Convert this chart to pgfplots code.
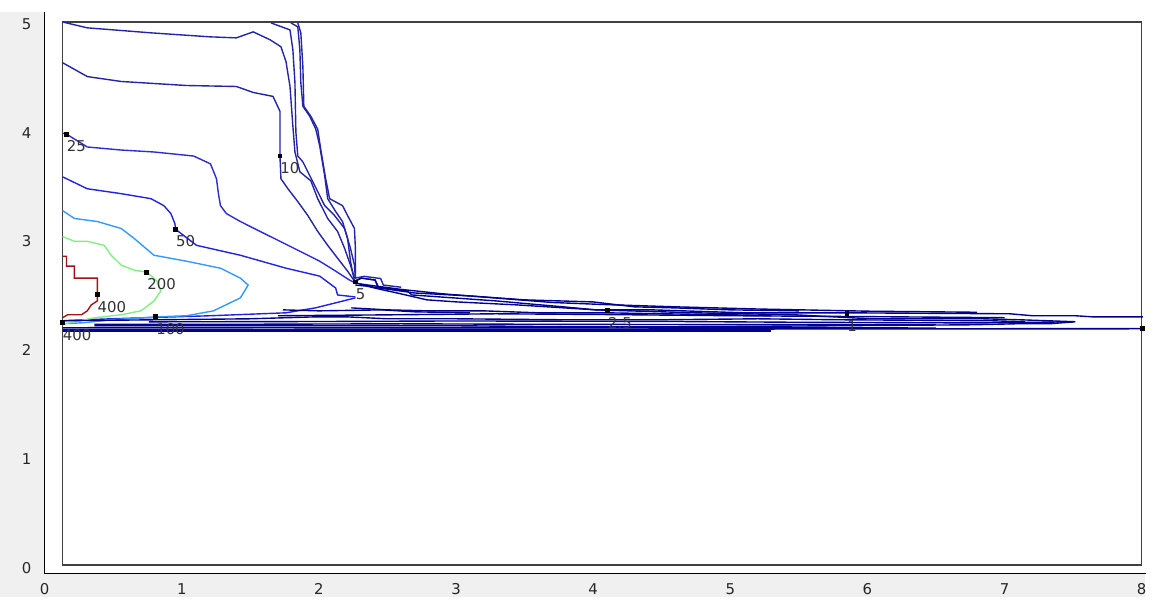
\documentclass[border=0pt]{standalone}
\usepackage{fontspec}
\setmainfont{DejaVu Sans}
\usepackage{pgfplots}
\pgfplotsset{compat=1.18}
\definecolor{bggray}{HTML}{F0F0F0}
\definecolor{cA}{HTML}{2424A8}
\definecolor{c25}{HTML}{2C2CD2}
\definecolor{c50}{HTML}{2222E4}
\definecolor{c100}{HTML}{3399FF}
\definecolor{c200}{HTML}{80F080}
\definecolor{c400}{HTML}{A01414}
\definecolor{cnavy}{HTML}{00008F}
\definecolor{framec}{HTML}{404040}
\definecolor{lbl}{HTML}{333333}
\tikzset{lab/.style={anchor=north west, inner sep=0pt, font=\fontsize{7.5}{9}\selectfont, text=lbl, yshift=-3pt}}
\begin{document}
\begin{tikzpicture}
\fill[white] (-22.5pt,-11.75pt) rectangle (554pt,288.75pt);
\fill[bggray] (-22.5pt,-11.75pt) rectangle (-0.4pt,282.75pt);
\fill[bggray] (-22.5pt,-11.75pt) rectangle (554pt,-0.4pt);
\begin{axis}[
 scale only axis, width=553.1pt, height=277.8pt,
 xmin=0, xmax=8.01, ymin=-0.05, ymax=5.02,
 axis line style={draw=none},
 major tick length=0pt,
 xtick={0,1,2,3,4,5,6,7,8}, ytick={0,1,2,3,4,5},
 clip=false,
 ticklabel style={font=\fontsize{7.5}{9}\selectfont, text=black!85},
 /pgf/number format/assume math mode=true,
 xticklabel style={yshift=-1.5pt},
 yticklabel style={xshift=-3.2pt},
 every axis plot/.append style={line width=0.7pt},
]
% outer frame and plot box
\draw[black, line width=0.75pt] (axis cs:0,5.11) -- (axis cs:0,-0.05) -- (axis cs:8.03,-0.05);
\draw[framec, line width=0.75pt] (axis cs:0.130,0.027) rectangle (axis cs:8.0,5.018);

% upper family converging at the 5 point
\addplot[cA] coordinates {(0.130,5.018) (0.311,4.964) (0.775,4.918) (1.209,4.881) (1.398,4.872) (1.521,4.927) (1.644,4.854) (1.723,4.790) (1.760,4.653) (1.789,4.425) (1.810,4.060) (1.825,3.823) (1.861,3.641) (1.941,3.558) (1.991,3.394) (2.064,3.212) (2.136,3.093) (2.187,2.938) (2.230,2.783) (2.259,2.664)};
\addplot[cA] coordinates {(1.651,5.009) (1.789,4.945) (1.810,4.763) (1.825,4.462) (1.832,4.005) (1.846,3.786) (1.883,3.732) (1.970,3.513) (2.042,3.330) (2.114,3.239) (2.187,3.120) (2.230,2.938) (2.259,2.783) (2.266,2.664)};
\addplot[cA] coordinates {(1.796,5.009) (1.846,4.973) (1.861,4.763) (1.868,4.462) (1.883,4.243) (1.933,4.151) (1.977,4.033) (2.006,3.878) (2.042,3.604) (2.064,3.394) (2.122,3.276) (2.172,3.184) (2.209,3.029) (2.230,2.819) (2.259,2.637) (2.310,2.664) (2.410,2.646) (2.432,2.582) (2.540,2.564)};
\addplot[cA] coordinates {(1.846,5.009) (1.868,4.918) (1.883,4.608) (1.890,4.243) (1.941,4.151) (1.991,4.033) (2.013,3.850) (2.049,3.577) (2.078,3.394) (2.172,3.330) (2.209,3.239) (2.259,3.120) (2.266,2.938) (2.266,2.664) (2.330,2.680) (2.450,2.660) (2.470,2.600) (2.600,2.580)};
\addplot[cA] coordinates {(0.130,4.644) (0.311,4.516) (0.558,4.471) (1.035,4.434) (1.398,4.425) (1.521,4.370) (1.665,4.334) (1.716,4.197) (1.716,3.777) (1.723,3.577) (1.774,3.485) (1.846,3.367) (1.919,3.239) (1.991,3.093) (2.064,2.965) (2.136,2.847) (2.209,2.728) (2.259,2.637)};
\addplot[c25] coordinates {(0.130,3.996) (0.159,3.987) (0.311,3.869) (0.558,3.841) (0.797,3.823) (1.086,3.786) (1.209,3.714) (1.253,3.577) (1.267,3.440) (1.282,3.330) (1.325,3.257) (1.427,3.184) (1.571,3.093) (1.716,3.002) (1.861,2.911) (2.006,2.819) (2.122,2.728) (2.223,2.646) (2.266,2.619)};
\addplot[c50] coordinates {(0.130,3.595) (0.311,3.485) (0.558,3.440) (0.775,3.394) (0.869,3.330) (0.920,3.257) (0.949,3.166) (0.956,3.111) (1.108,2.965) (1.427,2.874) (1.760,2.755) (2.006,2.682) (2.122,2.573) (2.136,2.509) (2.266,2.491)};
\addplot[c50] coordinates {(2.266,2.482) (1.977,2.391) (1.760,2.345) (1.209,2.318) (0.485,2.290) (0.290,2.281) (0.130,2.272)};
% 100, 200, 400
\addplot[c100] coordinates {(0.130,3.285) (0.217,3.212) (0.384,3.184) (0.558,3.120) (0.652,3.029) (0.797,2.874) (1.035,2.819) (1.282,2.755) (1.427,2.664) (1.484,2.600) (1.427,2.482) (1.231,2.363) (1.035,2.318) (0.818,2.308) (0.485,2.281) (0.290,2.254) (0.130,2.245)};
\addplot[c200] coordinates {(0.130,3.047) (0.217,3.002) (0.311,3.002) (0.434,2.965) (0.485,2.874) (0.558,2.783) (0.652,2.737) (0.746,2.719) (0.818,2.637) (0.847,2.546) (0.797,2.454) (0.702,2.363) (0.558,2.327) (0.362,2.299) (0.290,2.281) (0.181,2.254) (0.130,2.235)};
\addplot[c400] coordinates {(0.130,2.865) (0.159,2.865) (0.159,2.774) (0.217,2.774) (0.217,2.664) (0.384,2.664) (0.384,2.509) (0.384,2.454) (0.340,2.418) (0.311,2.363) (0.268,2.327) (0.167,2.327) (0.130,2.299)};
% dense band
\addplot[cnavy] coordinates {(2.266,2.637) (2.310,2.664) (2.410,2.646) (2.432,2.582) (2.540,2.564) (2.643,2.546) (2.679,2.509) (2.882,2.491) (3.295,2.454) (3.534,2.427) (3.780,2.400) (4.019,2.372) (4.432,2.372) (5.105,2.345) (5.829,2.345) (7.038,2.336) (7.205,2.318) (7.516,2.318) (7.639,2.308) (8.009,2.308)};
\addplot[cnavy] coordinates {(2.266,2.600) (2.350,2.590) (2.450,2.560) (2.571,2.527) (2.788,2.464) (3.006,2.445) (3.440,2.418) (4.019,2.372) (4.743,2.345) (5.467,2.327) (6.025,2.290) (6.843,2.290) (7.110,2.281) (7.516,2.263) (7.335,2.245) (7.110,2.245) (6.770,2.235) (5.757,2.226) (4.743,2.217) (3.800,2.217) (3.000,2.226) (2.200,2.226) (1.500,2.226) (0.362,2.226)};
\addplot[cnavy] coordinates {(0.130,2.272) (0.811,2.281) (1.500,2.290) (1.977,2.308) (2.200,2.308) (2.500,2.290) (3.000,2.290) (3.800,2.281) (4.500,2.281) (5.200,2.290) (5.800,2.281) (6.900,2.272) (7.150,2.263)};
\addplot[cnavy] coordinates {(2.237,2.390) (2.500,2.372) (2.800,2.363) (3.200,2.363) (3.600,2.345) (4.100,2.345) (4.500,2.336) (5.000,2.327) (5.300,2.318)};
\addplot[cnavy] coordinates {(2.266,2.620) (2.400,2.580) (2.700,2.527) (3.100,2.500) (3.500,2.464) (4.000,2.445) (4.300,2.400) (4.600,2.390) (5.000,2.372) (5.500,2.363)};
\addplot[cnavy] coordinates {(2.300,2.610) (2.600,2.560) (2.900,2.520) (3.300,2.480) (3.700,2.440) (4.100,2.420) (4.600,2.400) (5.200,2.380) (6.000,2.360) (6.800,2.350)};
\addplot[cnavy] coordinates {(1.738,2.372) (2.000,2.363) (2.462,2.372) (2.700,2.354) (3.100,2.345)};
\addplot[cnavy] coordinates {(1.700,2.318) (2.570,2.327) (3.290,2.336) (4.000,2.330) (5.030,2.318) (6.000,2.310) (7.000,2.300)};
\addplot[cnavy] coordinates {(0.760,2.262) (2.000,2.265) (3.000,2.270) (4.500,2.266) (5.500,2.258) (6.800,2.252) (7.500,2.262)};
\addplot[cnavy] coordinates {(0.362,2.240) (1.500,2.240) (2.600,2.244) (3.500,2.240) (5.030,2.236) (6.500,2.238)};
\addplot[cnavy] coordinates {(0.130,2.208) (2.000,2.210) (4.000,2.208) (5.360,2.210) (6.500,2.205)};
\addplot[cnavy, line width=1.2pt] coordinates {(0.130,2.183) (5.300,2.183)};
\addplot[cnavy, line width=0.8pt] coordinates {(0.130,2.192) (8.009,2.199)};
% label markers
\addplot[only marks, mark=square*, mark size=0.9pt, black] coordinates {(0.159,3.987) (1.716,3.786) (0.956,3.111) (0.746,2.719) (0.384,2.509) (2.266,2.628) (4.106,2.363) (5.851,2.336) (0.811,2.308) (0.130,2.254) (8.009,2.199)};
% contour labels
\node[lab] at (axis cs:0.159,3.987) {25};
\node[lab] at (axis cs:1.716,3.786) {10};
\node[lab] at (axis cs:0.956,3.111) {50};
\node[lab] at (axis cs:0.746,2.719) {200};
\node[lab] at (axis cs:0.384,2.509) {400};
\node[lab] at (axis cs:2.266,2.628) {5};
\node[lab] at (axis cs:4.106,2.363) {2.5};
\node[lab] at (axis cs:5.851,2.336) {1};
\node[lab] at (axis cs:0.811,2.308) {100};
\node[lab] at (axis cs:0.130,2.254) {400};
\end{axis}
\end{tikzpicture}
\end{document}
